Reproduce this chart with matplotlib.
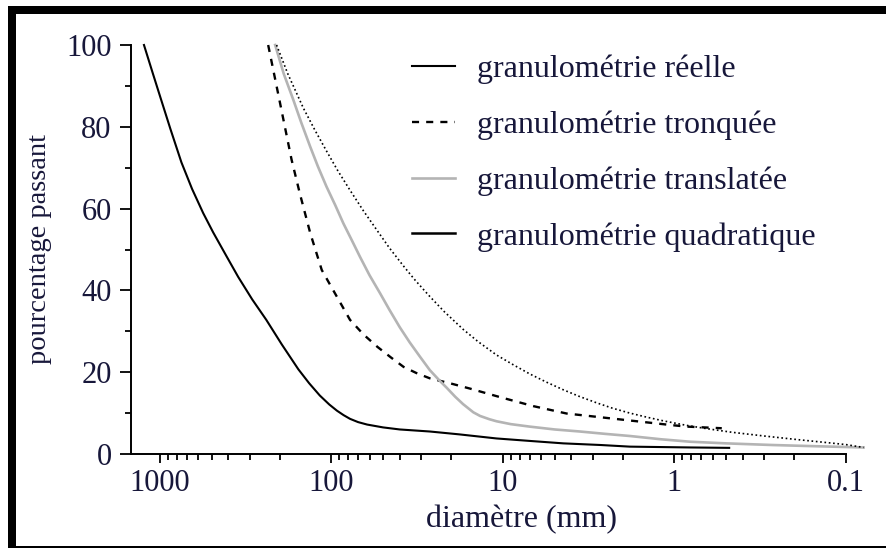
import matplotlib
matplotlib.use("Agg")
import matplotlib.pyplot as plt
from matplotlib.lines import Line2D
from matplotlib.patches import Rectangle
from matplotlib.ticker import LogLocator, FixedLocator, FuncFormatter, NullFormatter

# ------------------------------------------------------------------------------
# data (diameter in mm, percent passing)
# ------------------------------------------------------------------------------
d_reelle = [1240, 1100, 1000, 870, 750, 650, 560, 490, 410, 350, 290, 240, 195,
            156, 135, 117, 103, 93, 85, 78, 70, 62, 50, 40, 26.7, 18, 10.9, 7,
            4.45, 2.7, 1.82, 0.81, 0.48]
p_reelle = [100, 93, 87.5, 79.5, 71.3, 64.8, 58.9, 54.2, 48.4, 43.3, 37.8, 32.8,
            26.8, 20.7, 17.3, 14.3, 12.1, 10.6, 9.5, 8.6, 7.8, 7.2, 6.5, 6.0,
            5.5, 4.8, 3.8, 3.2, 2.6, 2.2, 1.8, 1.6, 1.5]

d_tronq = [234, 200, 171, 153, 133, 114, 95.5, 78, 65, 54, 45, 38, 32, 26.7,
           20.4, 15.6, 10.4, 6.65, 4.26, 2.72, 1.74, 1.06, 0.85, 0.53]
p_tronq = [100, 86, 72, 63.7, 54, 45, 39.3, 32.8, 29.2, 26.2, 23.6, 21.3, 19.8,
           18.5, 17.3, 16, 13.9, 11.7, 9.9, 9.0, 8.1, 7.1, 6.7, 6.3]

d_transl = [213, 190, 167, 150, 133, 120, 107, 95, 85.3, 76, 68.2, 60, 52.1, 46,
            40, 35, 30.5, 26.7, 23.5, 21.3, 19, 17.1, 14.9, 13.6, 12, 10.9, 9,
            7, 5, 3.56, 2.5, 1.82, 1.2, 0.81, 0.5, 0.27, 0.15, 0.079]
p_transl = [100, 93, 86.6, 81, 75.1, 70.3, 65.4, 60.8, 56.4, 52.2, 48.2, 43.7,
            39.3, 35.3, 31, 27.3, 23.8, 20.5, 18.0, 16.2, 14.0, 12.2, 10.2, 9.3,
            8.5, 8.0, 7.3, 6.7, 6.0, 5.5, 4.9, 4.4, 3.6, 3.0, 2.6, 2.2, 1.9, 1.6]

d_quad = [209, 180, 146, 125, 107, 92, 78, 65, 54.5, 46, 38.1, 33, 29.2, 26.7,
          22, 17.1, 14, 10.9, 8.7, 7, 5.6, 4.45, 3.6, 2.84, 2.3, 1.82, 1.45,
          1.16, 0.85, 0.65, 0.46, 0.3, 0.19, 0.13, 0.1, 0.079]
p_quad = [100, 93, 84.6, 79.2, 74.1, 69.3, 64.5, 59.4, 54.8, 50.4, 46, 42.8,
          40.3, 38.5, 34.8, 30.5, 27.5, 24.2, 21.8, 19.6, 17.6, 15.7, 14.1,
          12.5, 11.2, 10.0, 9.0, 8.1, 7.0, 6.2, 5.3, 4.4, 3.5, 2.8, 2.3, 1.6]

labels = ["granulométrie réelle", "granulométrie tronquée",
          "granulométrie translatée", "granulométrie quadratique"]
x_ticks = [1000, 100, 10, 1, 0.1]
y_ticks = [0, 20, 40, 60, 80, 100]

txt_col = '#17173a'
plt.rcParams['font.family'] = ['Liberation Serif', 'DejaVu Serif']

# ------------------------------------------------------------------------------
# figure
# ------------------------------------------------------------------------------
W, H = 887, 550
fig = plt.figure(figsize=(W / 100, H / 100), dpi=100)
ax = fig.add_axes([131 / W, (H - 454) / H, (846 - 131) / W, (454 - 45) / H])

l1, = ax.plot(d_reelle, p_reelle, color='black', lw=1.5, clip_on=False)
l2, = ax.plot(d_tronq, p_tronq, color='black', lw=1.7, dashes=(3, 3), clip_on=False)
l3, = ax.plot(d_transl, p_transl, color='#b4b4b4', lw=1.9, clip_on=False)
l4, = ax.plot(d_quad, p_quad, color='black', lw=1.2, dashes=(1, 1.6), clip_on=False)

ax.set_xscale('log')
ax.set_xlim(1476, 0.1)
ax.set_ylim(0, 100)

ax.xaxis.set_major_locator(FixedLocator(x_ticks))
ax.xaxis.set_minor_locator(LogLocator(base=10, subs=range(2, 10)))
ax.xaxis.set_major_formatter(FuncFormatter(lambda v, pos: '%g' % v))
ax.xaxis.set_minor_formatter(NullFormatter())
ax.set_yticks(y_ticks)
ax.set_yticks([10, 30, 50, 70, 90], minor=True)

for s in ['top', 'right']:
    ax.spines[s].set_visible(False)
for s in ['left', 'bottom']:
    ax.spines[s].set_linewidth(1.4)

ax.tick_params(axis='both', which='both', direction='out', width=1.3,
               labelsize=22, labelcolor=txt_col)
ax.tick_params(axis='y', which='major', length=8, pad=6)
ax.tick_params(axis='y', which='minor', length=4.5)
ax.tick_params(axis='x', which='major', length=6.5, pad=4)
ax.tick_params(axis='x', which='minor', length=4.5)

ax.set_xlabel('diamètre (mm)', fontsize=23, color=txt_col)
ax.xaxis.label.set_va('center')
ax.xaxis.set_label_coords((522 - 131) / 715, (454 - 520) / 409)
ax.set_ylabel('pourcentage passant', fontsize=20.5, color=txt_col)
ax.yaxis.label.set_va('center')
ax.yaxis.set_label_coords((40 - 131) / 715, 0.5)

# legend: the 4th entry shows a solid line in the original
handles = [l1, l2, l3, Line2D([], [], color='black', lw=1.8)]
leg = fig.legend(handles, labels, loc='upper left',
                 bbox_to_anchor=(412 / W, (H - 55) / H),
                 frameon=False, fontsize=23, handlelength=1.35,
                 handletextpad=0.7, labelspacing=0.82,
                 borderpad=0, borderaxespad=0)
for t in leg.get_texts():
    t.set_color(txt_col)

# black frame around the picture (cut on the right)
fig.add_artist(Rectangle((8 / W, (H - 14) / H), 1 - 8 / W, 8 / H,
                         transform=fig.transFigure, color='black', lw=0))
fig.add_artist(Rectangle((8 / W, (H - 548) / H), 8 / W, (548 - 6) / H,
                         transform=fig.transFigure, color='black', lw=0))
fig.add_artist(Rectangle((8 / W, (H - 548) / H), 1 - 8 / W, 2.5 / H,
                         transform=fig.transFigure, color='black', lw=0))

fig.savefig('out.png', dpi=100)
